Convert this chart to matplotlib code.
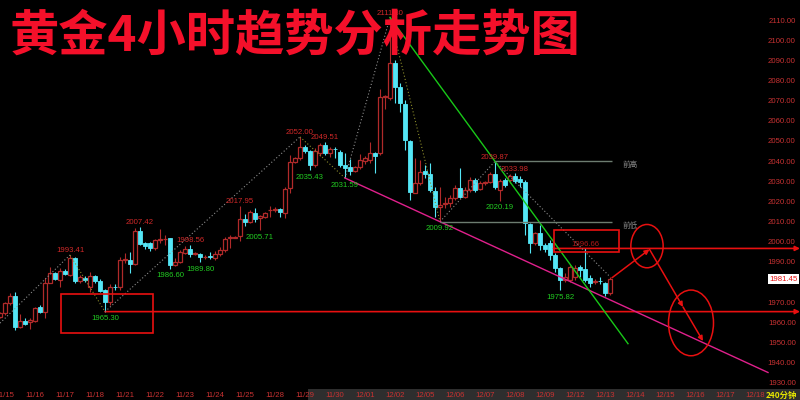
import numpy as np
import matplotlib
matplotlib.use("Agg")
import matplotlib.pyplot as plt
from matplotlib.patches import Rectangle, Ellipse

# 4h candles, gold (index = bar number from left edge)
opens = [1962.6, 1964.4, 1969.7, 1973.0, 1957.5, 1960.6, 1960.3, 1960.8, 1967.4, 1965.2,
         1979.6, 1984.3, 1980.9, 1985.4, 1983.4, 1991.7, 1980.6, 1982.1, 1977.6, 1982.9,
         1980.6, 1976.0, 1970.2, 1977.6, 1977.6, 1990.9, 1990.9, 1988.9, 2005.4, 1999.2,
         1999.2, 1996.7, 2000.8, 2001.1, 2001.6, 1988.4, 1990.0, 1994.5, 1996.2, 1994.0,
         1993.9, 1992.4, 1993.0, 1991.7, 1993.7, 1995.8, 2001.6, 2002.0, 2002.8, 2011.2,
         2009.9, 2014.4, 2011.6, 2012.1, 2015.6, 2015.6, 2016.0, 2014.1, 2026.5, 2039.6,
         2041.4, 2047.1, 2045.0, 2038.0, 2044.1, 2048.0, 2044.1, 2046.0, 2044.3, 2038.0,
         2036.9, 2035.2, 2036.9, 2040.2, 2040.5, 2043.8, 2043.8, 2071.9, 2071.1, 2088.5,
         2076.6, 2068.3, 2050.1, 2024.3, 2028.9, 2035.1, 2033.6, 2025.3, 2017.0, 2018.8,
         2019.0, 2021.5, 2026.5, 2022.3, 2025.6, 2030.6, 2026.0, 2029.2, 2029.8, 2033.4,
         2025.6, 2030.6, 2030.6, 2032.6, 2030.9, 2029.8, 2008.8, 1999.2, 2004.1, 1998.3,
         1999.2, 1993.4, 1986.8, 1980.9, 1980.9, 1982.6, 1987.6, 1986.3, 1981.8, 1980.0,
         1980.6, 1979.6, 1974.7]
highs = [1965.0, 1970.2, 1974.4, 1975.2, 1964.1, 1961.9, 1962.3, 1967.7, 1968.5, 1981.8,
         1987.6, 1985.1, 1986.8, 1986.3, 1993.41, 1992.5, 1983.4, 1983.0, 1985.1, 1983.4,
         1981.3, 1976.3, 1979.0, 1978.8, 1992.5, 1994.2, 1995.0, 2006.8, 2007.42, 2000.0,
         2000.0, 2001.2, 2006.1, 2003.3, 2002.0, 1991.7, 1995.8, 1998.0, 1998.56, 1995.0,
         1994.5, 1993.4, 1994.9, 1995.4, 1997.5, 2002.5, 2003.3, 2002.6, 2017.95, 2013.7,
         2015.7, 2016.6, 2013.2, 2014.8, 2017.6, 2017.0, 2016.6, 2027.3, 2043.0, 2042.2,
         2052.00, 2048.0, 2045.5, 2046.3, 2048.8, 2049.51, 2047.1, 2046.8, 2045.5, 2043.8,
         2040.9, 2037.5, 2043.5, 2042.7, 2049.6, 2044.6, 2075.6, 2072.8, 2111.30, 2090.1,
         2078.6, 2070.3, 2050.4, 2041.4, 2040.5, 2038.0, 2038.9, 2027.3, 2027.3, 2022.3,
         2023.2, 2028.1, 2036.4, 2027.3, 2032.2, 2031.4, 2030.0, 2030.2, 2034.7, 2039.87,
         2031.0, 2031.4, 2033.6, 2033.98, 2032.6, 2030.6, 2009.1, 2005.0, 2008.3, 1999.2,
         2000.8, 1994.2, 1987.6, 1984.3, 1988.4, 1988.4, 1988.4, 1996.66, 1983.4, 1981.3,
         1982.6, 1980.1, 1982.6]
lows = [1962.0, 1963.6, 1968.5, 1956.2, 1957.0, 1958.6, 1956.5, 1960.3, 1964.7, 1962.0,
        1979.3, 1980.9, 1977.6, 1983.3, 1982.9, 1979.6, 1979.3, 1980.1, 1975.2, 1979.6,
        1975.2, 1965.30, 1968.5, 1976.0, 1976.0, 1989.3, 1984.3, 1988.4, 1998.3, 1996.2,
        1995.5, 1995.8, 1999.2, 1998.3, 1986.60, 1987.9, 1989.3, 1993.9, 1992.5, 1993.3,
        1989.80, 1991.6, 1991.2, 1990.7, 1992.9, 1995.0, 1996.8, 2001.6, 2000.5, 2007.8,
        2009.1, 2009.9, 2005.71, 2011.6, 2012.4, 2014.8, 2012.4, 2011.9, 2024.0, 2039.2,
        2040.5, 2044.1, 2035.43, 2036.9, 2042.5, 2043.0, 2042.2, 2041.4, 2036.9, 2031.59,
        2033.1, 2034.6, 2035.9, 2038.5, 2038.9, 2033.9, 2043.0, 2066.0, 2070.3, 2068.7,
        2064.5, 2045.5, 2020.7, 2024.0, 2028.1, 2031.4, 2024.8, 2012.4, 2009.92, 2016.6,
        2017.4, 2020.7, 2021.5, 2021.5, 2024.8, 2024.8, 2025.6, 2028.0, 2029.3, 2026.0,
        2020.19, 2027.3, 2029.0, 2028.9, 2027.3, 2003.3, 1994.2, 1998.4, 1995.8, 1995.0,
        1990.9, 1985.1, 1975.82, 1980.1, 1980.1, 1980.9, 1982.6, 1980.1, 1977.6, 1978.8,
        1979.0, 1973.0, 1973.5]
closes = [1964.6, 1969.4, 1973.0, 1957.8, 1960.6, 1959.1, 1961.1, 1966.9, 1965.2, 1979.6,
          1984.3, 1981.3, 1985.4, 1983.9, 1991.7, 1980.6, 1982.3, 1980.9, 1982.9, 1980.6,
          1975.6, 1970.2, 1977.6, 1977.3, 1990.9, 1991.2, 1988.9, 2005.4, 1998.8, 1998.0,
          1996.7, 2000.8, 2001.2, 2001.3, 1988.4, 1990.0, 1994.7, 1996.2, 1993.9, 1994.2,
          1992.2, 1992.6, 1992.3, 1993.9, 1995.8, 2001.2, 2002.3, 2002.2, 2011.1, 2009.9,
          2014.6, 2011.2, 2012.9, 2014.1, 2015.8, 2016.0, 2014.5, 2026.0, 2039.4, 2041.4,
          2047.1, 2045.0, 2038.0, 2045.0, 2048.0, 2044.1, 2045.8, 2045.9, 2038.0, 2036.4,
          2035.2, 2036.9, 2040.5, 2041.4, 2043.8, 2042.5, 2071.9, 2072.3, 2088.5, 2076.6,
          2068.7, 2050.4, 2024.8, 2028.9, 2034.7, 2033.6, 2025.6, 2017.0, 2018.2, 2019.0,
          2021.5, 2026.5, 2022.3, 2025.6, 2030.6, 2025.6, 2028.9, 2029.4, 2033.6, 2027.0,
          2030.3, 2028.1, 2032.6, 2030.3, 2029.8, 2009.1, 1999.2, 2004.4, 1998.3, 1996.2,
          1993.4, 1986.8, 1980.9, 1982.6, 1987.6, 1986.8, 1985.9, 1980.9, 1979.3, 1980.3,
          1980.4, 1974.7, 1981.45]

date_labels = ['11/15', '11/16', '11/17', '11/18', '11/21', '11/22', '11/23', '11/24',
               '11/25', '11/28', '11/29', '11/30', '12/01', '12/02', '12/05', '12/06',
               '12/07', '12/08', '12/09', '12/12', '12/13', '12/14', '12/15', '12/16',
               '12/17', '12/18']

# swing highs / lows marked on the chart
hi_idx = [14, 28, 38, 48, 60, 65, 78, 99, 103, 117]
hi_val = [1993.41, 2007.42, 1998.56, 2017.95, 2052.00, 2049.51, 2111.30, 2039.87, 2033.98, 1996.66]
lo_idx = [21, 34, 40, 52, 62, 69, 88, 100, 112]
lo_val = [1965.30, 1986.60, 1989.80, 2005.71, 2035.43, 2031.59, 2009.92, 2020.19, 1975.82]

# zigzag through the main swings
zz_idx = [0, 14, 21, 60, 69, 78, 88, 99, 122]
zz_val = [1959.6, 1993.41, 1965.30, 2052.00, 2031.59, 2111.30, 2009.92, 2039.87, 1982.6]

last_price = 1981.45
support = 1965.30
resist = 1996.66
prev_high = 2039.87
prev_low = 2009.92

# projected path
proj_idx = [122.4, 129.9, 136.6, 140.6]
proj_val = [1982.1, 1996.2, 1967.6, 1950.7]

RED = '#e81010'
UP = '#b02a2a'
DOWN = '#54e6f6'
LBL_RED = '#d02828'
LBL_GRN = '#22cc22'
NUM_FONT = 'Liberation Sans'
CJK = ['Noto Sans CJK SC', 'DejaVu Sans']

fig = plt.figure(figsize=(8, 4), dpi=100, facecolor='black')
ax = fig.add_axes([0, 12 / 400, 1, 388 / 400])
ax.set_facecolor('black')
for s in ax.spines.values():
    s.set_visible(False)

o = np.array(opens)
h = np.array(highs)
l = np.array(lows)
c = np.array(closes)
idx = np.arange(len(o))
up = c >= o

ax.vlines(idx, l, h, colors=np.where(up, UP, DOWN), lw=0.8, zorder=2)
body = np.maximum(np.abs(c - o), 0.12)
ax.bar(idx[up], body[up], bottom=np.minimum(o, c)[up], width=0.72,
       facecolor='black', edgecolor=UP, lw=0.9, zorder=3)
ax.bar(idx[~up], body[~up], bottom=np.minimum(o, c)[~up], width=0.72,
       facecolor=DOWN, edgecolor=DOWN, lw=0.6, zorder=3)

# zigzag, dotted
for k in range(len(zz_idx) - 1):
    down_leg = zz_val[k + 1] < zz_val[k] and k != len(zz_idx) - 2
    ax.plot(zz_idx[k:k + 2], zz_val[k:k + 2], ls=(0, (1, 2)), lw=0.8,
            color='#8c8c2a' if down_leg else '#8c8c8c', zorder=4)

# trend lines through the swings
m_slope = (lo_val[6] - lo_val[5]) / (lo_idx[6] - lo_idx[5])
mx = np.array([lo_idx[5], 153.6])
ax.plot(mx, lo_val[5] + m_slope * (mx - lo_idx[5]), color='#e0208c', lw=1.0, zorder=4)
g_slope = (hi_val[7] - hi_val[6]) / (hi_idx[7] - hi_idx[6])
gx = np.array([hi_idx[6], 125.6])
ax.plot(gx, hi_val[6] + g_slope * (gx - hi_idx[6]), color='#18c818', lw=1.0, zorder=4)

# previous high / low
ax.hlines([prev_high, prev_low], [99, 88], 122.4, colors='#6c7c70', lw=1.0, zorder=4)
ax.text(124.6, prev_high, '前高', color='#8a8a8a', fontsize=5.5, family=CJK, va='top')
ax.text(124.6, prev_low, '前低', color='#8a8a8a', fontsize=5.5, family=CJK, va='top')

# red levels with arrows to the right edge
for x0, lvl in [(21, support), (110.7, resist)]:
    ax.annotate('', xy=(160, lvl), xytext=(x0, lvl),
                arrowprops=dict(arrowstyle='-|>', color=RED, lw=1.2, mutation_scale=7,
                                shrinkA=0, shrinkB=0))

ax.add_patch(Rectangle((12.1, 1954.5), 18.4, 19.4, fill=False, ec=RED, lw=1.2, zorder=5))
ax.add_patch(Rectangle((110.7, 1995.0), 13.0, 10.8, fill=False, ec=RED, lw=1.2, zorder=5))
ax.add_patch(Ellipse((129.4, 1997.8), 6.46, 21.5, fill=False, ec=RED, lw=1.1, zorder=5))
ax.add_patch(Ellipse((138.2, 1959.7), 9.0, 32.6, fill=False, ec=RED, lw=1.1, zorder=5))

for k in range(len(proj_idx) - 1):
    ax.annotate('', xy=(proj_idx[k + 1], proj_val[k + 1]), xytext=(proj_idx[k], proj_val[k]),
                arrowprops=dict(arrowstyle='-|>', color=RED, lw=1.1, mutation_scale=7,
                                shrinkA=0, shrinkB=0), zorder=6)

# swing value labels
for x, v in zip(hi_idx, hi_val):
    col = '#b01818' if v == resist else LBL_RED
    ax.annotate(f'{v:.2f}', (x, v), xytext=(0, 0.5), textcoords='offset points',
                ha='center', va='bottom', color=col, fontsize=5.6, family=NUM_FONT, zorder=7)
for x, v in zip(lo_idx, lo_val):
    ax.annotate(f'{v:.2f}', (x, v), xytext=(0, -2.5), textcoords='offset points',
                ha='center', va='top', color=LBL_GRN, fontsize=5.6, family=NUM_FONT, zorder=7)

ax.set_xlim(0, 160)
ax.set_ylim(1927.4, 2119.93)

ax.yaxis.tick_right()
ax.set_yticks(np.arange(1930, 2111, 10))
ax.set_yticklabels([f'{v:.2f}' for v in np.arange(1930, 2111, 10)])
ax.tick_params(axis='y', length=0, pad=-3, labelsize=5.6, labelcolor='#c83232')
for t in ax.get_yticklabels():
    t.set_horizontalalignment('right')
    t.set_family(NUM_FONT)

ax.set_xticks(1 + 6 * np.arange(len(date_labels)))
ax.set_xticklabels(date_labels)
ax.tick_params(axis='x', length=0, pad=3, labelsize=5.6, labelcolor='#c83232')
for t in ax.get_xticklabels():
    t.set_family(NUM_FONT)

ax.text(0.997, last_price, f'{last_price:.2f}', transform=ax.get_yaxis_transform(),
        ha='right', va='center', color=RED, fontsize=5.6, family=NUM_FONT, zorder=8,
        bbox=dict(boxstyle='square,pad=0.15', fc='white', ec='none'))

# bottom strip and period
fig.add_artist(Rectangle((308 / 800, 0), 492 / 800, 11 / 400, transform=fig.transFigure,
                         fc='#2e2e2e', ec='none', zorder=-1))
fig.text(797 / 800, 5 / 400, '240分钟', ha='right', va='center', color='#e6e600',
         fontsize=6, family=CJK, weight='bold')

fig.text(10 / 800, 1 - 36 / 400, '黄金4小时趋势分析走势图', ha='left', va='center',
         color='#f4102a', fontsize=35.5, family=CJK, weight='bold')

fig.savefig('out.png', dpi=100, facecolor='black')
